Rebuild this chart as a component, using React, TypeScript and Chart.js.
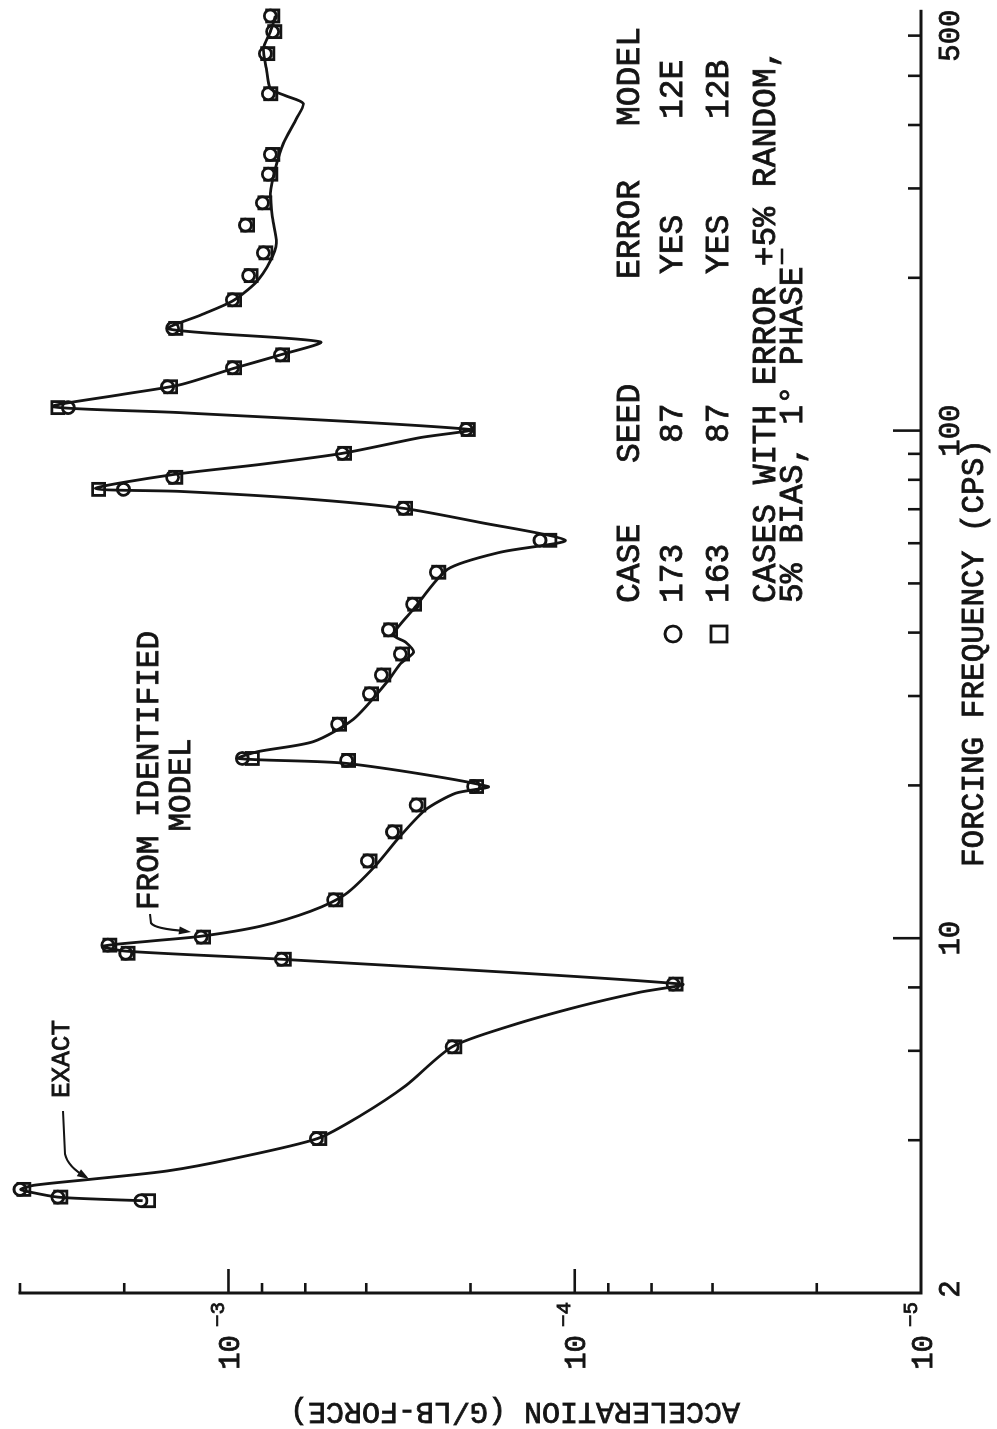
import React, { useEffect, useRef } from "react";
import { Chart, registerables } from "chart.js";

Chart.register(...registerables);

// ---------------- data ----------------
// smooth curve "EXACT" / "FROM IDENTIFIED MODEL": frequency (cps) and acceleration (g/lb-force)
const CURVE_FREQ = [
  3.04, 3.06, 3.09, 3.16, 3.2, 3.26, 3.35, 3.48, 3.68, 4.03,
  4.47, 5.12, 6.11, 6.72, 7.35, 7.83, 8.12, 9.09, 9.43, 9.64,
  9.87, 10.09, 10.56, 11.3, 12.2, 13.9, 15.9, 17.9, 19.3, 19.9,
  22.1, 22.6, 23.3, 24.4, 27.0, 32.0, 34.7, 36.6, 38.3, 39.6,
  44.5, 53.3, 57.6, 60.8, 65.9, 70.3, 73.5, 75.9, 76.9, 81.9,
  85.8, 90.2, 96.9, 100.5, 108.5, 111.5, 117.7, 123.1, 132.4, 141,
  149.6, 158.6, 169, 180, 195.4, 215.8, 234, 262, 293.5, 328.6,
  368, 412, 441, 457, 472, 517, 566, 611, 656,
];
const CURVE_ACC = [
  1.77e-3, 2.34e-3, 3.11e-3, 3.73e-3, 3.98e-3, 3.65e-3, 2.5e-3, 1.5e-3, 9.67e-4, 5.53e-4,
  4.16e-4, 3.08e-4, 2.26e-4, 1.535e-4, 9.64e-5, 6.47e-5, 4.9e-5, 7.03e-4, 1.98e-3, 2.31e-3,
  1.68e-3, 1.2e-3, 8.08e-4, 5.8e-4, 4.6e-4, 3.76e-4, 3.19e-4, 2.7e-4, 2.21e-4, 1.78e-4,
  4.56e-4, 9.36e-4, 8.25e-4, 5.68e-4, 4.36e-4, 3.48e-4, 3.19e-4, 2.92e-4, 3.08e-4, 3.34e-4,
  2.92e-4, 2.33e-4, 1.64e-4, 1.065e-4, 1.87e-4, 3.13e-4, 6.19e-4, 1.38e-3, 2.42e-3, 1.45e-3,
  8.08e-4, 4.69e-4, 2.79e-4, 2.0e-4, 1.38e-3, 3.22e-3, 2.05e-3, 1.38e-3, 9.74e-4, 7.08e-4,
  5.43e-4, 1.49e-3, 1.2e-3, 9.74e-4, 8.36e-4, 7.57e-4, 7.27e-4, 7.46e-4, 7.57e-4, 7.32e-4,
  6.94e-4, 6.36e-4, 6.08e-4, 6.85e-4, 7.57e-4, 7.77e-4, 7.93e-4, 7.57e-4, 7.32e-4,
];

// measured points: case 173 (circles) and case 163 (squares)
const MARK_FREQ = [
  3.04, 3.09, 3.2, 4.03, 6.11, 8.12, 9.09, 9.34, 9.69, 10.05,
  11.9, 14.2, 16.2, 18.3, 19.9, 22.4, 22.6, 26.4, 30.3, 33.0,
  36.3, 40.5, 45.5, 52.6, 60.8, 70.3, 76.6, 80.9, 90.2, 100.5,
  111, 122, 133, 141, 159, 181, 202, 224, 254, 281,
  320, 350, 461, 553, 611, 656,
];
const CIRCLE_ACC = [
  1.79e-3, 3.11e-3, 4.0e-3, 5.57e-4, 2.26e-4, 5.2e-5, 7.03e-4, 1.98e-3, 2.23e-3, 1.2e-3,
  4.97e-4, 3.97e-4, 3.36e-4, 2.87e-4, 1.96e-4, 4.56e-4, 9.12e-4, 4.84e-4, 3.92e-4, 3.62e-4,
  3.19e-4, 3.45e-4, 2.94e-4, 2.51e-4, 1.26e-4, 3.13e-4, 2.01e-3, 1.45e-3, 4.69e-4, 2.06e-4,
  2.9e-3, 1.5e-3, 9.74e-4, 7.08e-4, 1.45e-3, 9.74e-4, 8.75e-4, 7.93e-4, 8.93e-4, 7.98e-4,
  7.67e-4, 7.57e-4, 7.67e-4, 7.82e-4, 7.46e-4, 7.57e-4,
];
const SQUARE_ACC = [
  1.7e-3, 3.05e-3, 3.9e-3, 5.45e-4, 2.22e-4, 5.1e-5, 6.9e-4, 1.95e-3, 2.2e-3, 1.18e-3,
  4.9e-4, 3.9e-4, 3.3e-4, 2.82e-4, 1.92e-4, 4.5e-4, 8.53e-4, 4.78e-4, 3.86e-4, 3.56e-4,
  3.14e-4, 3.4e-4, 2.9e-4, 2.47e-4, 1.18e-4, 3.08e-4, 2.37e-3, 1.42e-3, 4.62e-4, 2.03e-4,
  3.11e-3, 1.47e-3, 9.6e-4, 6.98e-4, 1.42e-3, 9.6e-4, 8.6e-4, 7.8e-4, 8.8e-4, 7.85e-4,
  7.55e-4, 7.45e-4, 7.55e-4, 7.7e-4, 7.35e-4, 7.45e-4,
];

// axes
const FREQ_MIN = 2;
const FREQ_MAX = 670;
const ACC_MIN = 1e-5;
const ACC_MAX = 4e-3;
const FREQ_MINOR_TICKS = [4, 6, 8, 20, 30, 40, 50, 60, 70, 80, 90, 200, 300, 400, 500, 600];
const FREQ_MAJOR_TICKS = [10, 100];
const FREQ_LABEL_VALUES = [2, 10, 100, 600];
const FREQ_LABEL_TEXT = ["2", "10", "100", "500"];
const ACC_MINOR_TICKS = [2e-5, 4e-5, 6e-5, 8e-5, 2e-4, 4e-4, 6e-4, 8e-4, 2e-3, 4e-3];
const ACC_MAJOR_TICKS = [1e-4, 1e-3];
const ACC_LABEL_VALUES = [1e-5, 1e-4, 1e-3];
const ACC_LABEL_EXP = ["\u22125", "\u22124", "\u22123"];

// texts
const X_TITLE = "FORCING FREQUENCY (CPS)";
const Y_TITLE = "ACCELERATION (G/LB-FORCE)";
const LEGEND_HEAD = ["CASE", "SEED", "ERROR", "MODEL"];
const LEGEND_ROW_A = ["173", "87", "YES", "12E"];
const LEGEND_ROW_B = ["163", "87", "YES", "12B"];
const NOTE_1 = "CASES WITH ERROR +5% RANDOM,";
const NOTE_2 = "5% BIAS, 1\u00B0 PHASE";
const ANNOT_EXACT = "EXACT";
const ANNOT_MODEL_1 = "FROM IDENTIFIED";
const ANNOT_MODEL_2 = "MODEL";

// ---------------- drawing ----------------
const CW = 1429; // canvas width  (becomes page height after rotation)
const CH = 997; // canvas height (becomes page width after rotation)
const INK = "#141414";
const MONO = '"Liberation Mono", "DejaVu Sans Mono", monospace';

const decorPlugin = {
  id: "decor",
  beforeDraw(chart: any) {
    const c = chart.ctx;
    c.save();
    c.fillStyle = "#ffffff";
    c.fillRect(0, 0, chart.width, chart.height);
    c.restore();
  },
  afterDraw(chart: any) {
    const ctx = chart.ctx as CanvasRenderingContext2D;
    const xs = chart.scales.x;
    const ys = chart.scales.y;
    const X = (v: number) => xs.getPixelForValue(v);
    const Y = (v: number) => ys.getPixelForValue(v);
    const x0 = X(FREQ_MIN);
    const x1 = X(FREQ_MAX);
    const yb = Y(ACC_MIN);
    const yt = Y(ACC_MAX);

    ctx.save();
    ctx.strokeStyle = INK;
    ctx.fillStyle = INK;

    // typewriter-like heavier text
    const text = (s: string, u: number, v: number) => {
      ctx.lineWidth = 0.8;
      ctx.fillText(s, u, v);
      ctx.strokeText(s, u, v);
    };

    // axis lines
    ctx.lineWidth = 3;
    ctx.lineCap = "square";
    ctx.beginPath();
    ctx.moveTo(x1, yb);
    ctx.lineTo(x0, yb);
    ctx.lineTo(x0, yt);
    ctx.stroke();

    // ticks (pointing inward)
    ctx.lineCap = "butt";
    const seg = (a: number, b: number, c: number, d: number, w = 2.6) => {
      ctx.lineWidth = w;
      ctx.beginPath();
      ctx.moveTo(a, b);
      ctx.lineTo(c, d);
      ctx.stroke();
    };
    FREQ_MINOR_TICKS.forEach((f) => seg(X(f), yb, X(f), yb - 13));
    FREQ_MAJOR_TICKS.forEach((f) => seg(X(f), yb, X(f), yb - 28));
    ACC_MINOR_TICKS.forEach((a) => seg(x0, Y(a), x0 + 10, Y(a)));
    ACC_MAJOR_TICKS.forEach((a) => seg(x0, Y(a), x0 + 24, Y(a)));

    // tick labels
    ctx.textBaseline = "middle";
    ctx.textAlign = "center";
    ctx.font = `29px ${MONO}`;
    FREQ_LABEL_VALUES.forEach((f, i) => {
      text(FREQ_LABEL_TEXT[i], X(f) + (i === 0 ? 4 : 0), yb + 30);
    });
    ACC_LABEL_VALUES.forEach((a, i) => {
      const py = Y(a);
      ctx.font = `29px ${MONO}`;
      ctx.textAlign = "right";
      text("10", x0 - 42, py + 3);
      ctx.font = `21px ${MONO}`;
      ctx.textAlign = "left";
      text(ACC_LABEL_EXP[i], x0 - 34, py - 10);
    });

    // axis titles
    ctx.font = `31px ${MONO}`;
    ctx.textAlign = "left";
    text(X_TITLE, 562, 975);
    ctx.save();
    ctx.translate(18, 515);
    ctx.rotate(-Math.PI / 2);
    ctx.font = `30px ${MONO}`;
    ctx.textAlign = "center";
    text(Y_TITLE, 0, 0);
    ctx.restore();

    // legend table
    ctx.font = `33px ${MONO}`;
    ctx.textAlign = "left";
    const colU = [826, 966, 1150, 1303];
    const rowA = [826, 986, 1155, 1310];
    LEGEND_HEAD.forEach((t, i) => text(t, colU[i], 630));
    LEGEND_ROW_A.forEach((t, i) => text(t, rowA[i], 673));
    LEGEND_ROW_B.forEach((t, i) => text(t, rowA[i], 719));
    text(NOTE_1, 826, 766);
    text(NOTE_2, 826, 793);
    // underline of the "+" sign (typed plus/minus)
    const plusU = 826 + ctx.measureText(NOTE_1.slice(0, NOTE_1.indexOf("+"))).width;
    const plusW = ctx.measureText("+").width;
    seg(plusU + 2, 782, plusU + plusW - 2, 782, 2.5);

    // legend symbols
    ctx.lineWidth = 2.8;
    ctx.beginPath();
    ctx.arc(795, 673, 8, 0, Math.PI * 2);
    ctx.stroke();
    ctx.strokeRect(787, 711, 16, 16);

    // annotation EXACT
    ctx.font = `26px ${MONO}`;
    ctx.textAlign = "left";
    text(ANNOT_EXACT, 331, 62);
    ctx.lineWidth = 2.2;
    ctx.beginPath();
    ctx.moveTo(318, 63);
    ctx.lineTo(275, 65);
    ctx.quadraticCurveTo(262, 68, 252, 86);
    ctx.stroke();
    const arrow = (tx: number, ty: number, fx: number, fy: number) => {
      const ang = Math.atan2(ty - fy, tx - fx);
      const L = 12, Wd = 4;
      ctx.beginPath();
      ctx.moveTo(tx, ty);
      ctx.lineTo(tx - L * Math.cos(ang) + Wd * Math.sin(ang), ty - L * Math.sin(ang) - Wd * Math.cos(ang));
      ctx.lineTo(tx - L * Math.cos(ang) - Wd * Math.sin(ang), ty - L * Math.sin(ang) + Wd * Math.cos(ang));
      ctx.closePath();
      ctx.fill();
    };
    arrow(250, 89, 258, 76);

    // annotation FROM IDENTIFIED MODEL
    ctx.font = `31px ${MONO}`;
    ctx.textAlign = "left";
    text(ANNOT_MODEL_1, 519, 150);
    ctx.textAlign = "center";
    text(ANNOT_MODEL_2, 644, 182);
    ctx.lineWidth = 2.2;
    ctx.beginPath();
    ctx.moveTo(515, 150);
    ctx.lineTo(506, 151);
    ctx.quadraticCurveTo(500, 155, 498, 186);
    ctx.stroke();
    arrow(497, 191, 499, 176);

    ctx.restore();
  },
};

export default function App() {
  const ref = useRef<HTMLCanvasElement | null>(null);

  useEffect(() => {
    const canvas = ref.current;
    if (!canvas) return;
    const curve = CURVE_FREQ.map((f, i) => ({ x: f, y: CURVE_ACC[i] }));
    const circles = MARK_FREQ.map((f, i) => ({ x: f, y: CIRCLE_ACC[i] }));
    const squares = MARK_FREQ.map((f, i) => ({ x: f, y: SQUARE_ACC[i] }));

    const chart = new Chart(canvas, {
      type: "scatter",
      data: {
        datasets: [
          {
            type: "line",
            label: "Exact / identified model",
            data: curve,
            borderColor: INK,
            borderWidth: 2.8,
            pointRadius: 0,
            tension: 0.25,
            fill: false,
            clip: false,
          } as any,
          {
            label: "Case 173",
            data: circles,
            pointStyle: "circle",
            pointRadius: 6,
            borderWidth: 2.8,
            borderColor: INK,
            backgroundColor: "#ffffff",
            clip: false,
          } as any,
          {
            label: "Case 163",
            data: squares,
            pointStyle: "rect",
            pointRadius: 8.5,
            borderWidth: 2.8,
            borderColor: INK,
            backgroundColor: "rgba(255,255,255,0)",
            clip: false,
          } as any,
        ],
      },
      options: {
        responsive: false,
        animation: false,
        devicePixelRatio: 1,
        layout: { padding: { left: 136, right: 8, top: 20, bottom: 76 } },
        scales: {
          x: { type: "logarithmic", min: FREQ_MIN, max: FREQ_MAX, display: false },
          y: { type: "logarithmic", min: ACC_MIN, max: ACC_MAX, display: false },
        },
        plugins: {
          legend: { display: false },
          tooltip: { enabled: false },
        },
        events: [],
      },
      plugins: [decorPlugin],
    } as any);

    return () => chart.destroy();
  }, []);

  return (
    <div
      style={{
        position: "fixed",
        left: 0,
        top: 0,
        width: CH,
        height: CW,
        overflow: "hidden",
        background: "#ffffff",
      }}
    >
      <canvas
        ref={ref}
        width={CW}
        height={CH}
        style={{
          position: "absolute",
          left: 0,
          top: 0,
          width: CW,
          height: CH,
          transformOrigin: "0 0",
          transform: `translate(0px, ${CW}px) rotate(-90deg)`,
        }}
      />
    </div>
  );
}
